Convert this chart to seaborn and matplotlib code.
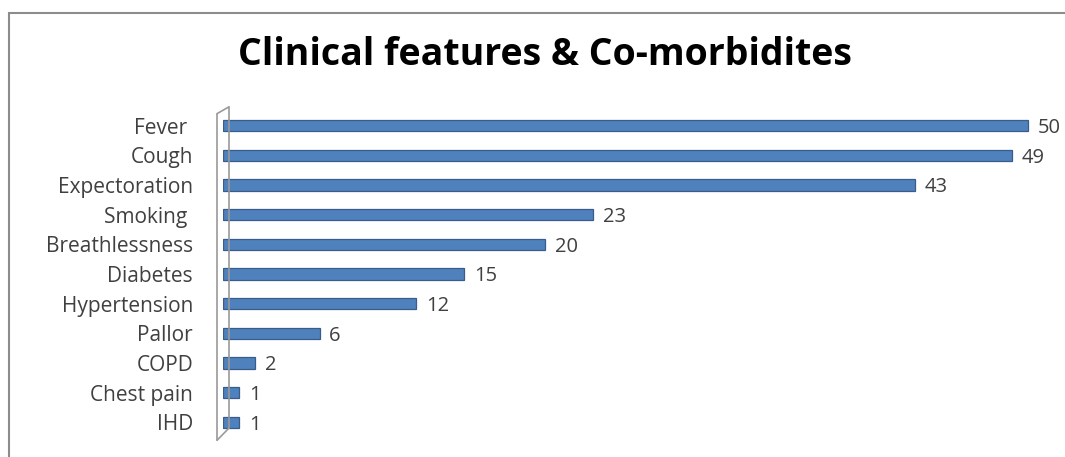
import pandas as pd
import matplotlib.pyplot as plt
import matplotlib.patches as mpatches
import seaborn as sns

# data
features = ["Fever ", "Cough", "Expectoration", "Smoking ", "Breathlessness",
            "Diabetes", "Hypertension", "Pallor", "COPD", "Chest pain", "IHD"]
counts = [50, 49, 43, 23, 20, 15, 12, 6, 2, 1, 1]

df = pd.DataFrame({"feature": features, "count": counts})

sns.set_style("white")
plt.rcParams["font.family"] = ["Open Sans", "DejaVu Sans"]

fig = plt.figure(figsize=(10.65, 4.57), dpi=100)
W, H = 1065, 457

# outer frame (cut off at right/bottom like the original screenshot)
fig.patches.append(mpatches.Rectangle((9 / W, -0.1), 1.2, 1 - 13 / H + 0.1,
                                      transform=fig.transFigure, fill=False,
                                      edgecolor="#8c8c8c", linewidth=1.5))

ax = fig.add_axes([223 / W, 1 - 437 / H, 837 / W, 326 / H])
sns.barplot(data=df, x="count", y="feature", ax=ax, orient="h",
            color="#4f81bd", saturation=1, width=0.38,
            edgecolor="#385d8a", linewidth=0.9)

# 3d-ish back wall of the axis
wall = "#9a9a9a"
ax.plot([-0.37, -0.37], [10.61, -0.41], color=wall, lw=1.2, clip_on=False)
ax.plot([0.37, 0.37], [10.2, -0.64], color=wall, lw=1.2, clip_on=False)
ax.plot([-0.37, 0.37], [-0.41, -0.64], color=wall, lw=1.2, clip_on=False)
ax.plot([-0.37, 0.37], [10.61, 10.2], color=wall, lw=1.2, clip_on=False)

ax.set_xlim(0, 52)
ax.set_ylim(10.5, -0.5)
ax.set_xlabel("")
ax.set_ylabel("")
ax.set_xticks([])
for s in ["top", "right", "bottom", "left"]:
    ax.spines[s].set_visible(False)
ax.tick_params(axis="y", length=0, pad=21.6, labelsize=15, labelcolor="#404040")

for i, v in enumerate(counts):
    ax.text(v + 0.6, i + 0.08, str(v), va="center", ha="left",
            fontsize=14.5, color="#404040")

fig.text(545 / W, 1 - 55 / H, "Clinical features & Co-morbidites",
         ha="center", va="center", fontsize=27, fontweight="bold",
         color="black")

fig.savefig("out.png", dpi=100)
